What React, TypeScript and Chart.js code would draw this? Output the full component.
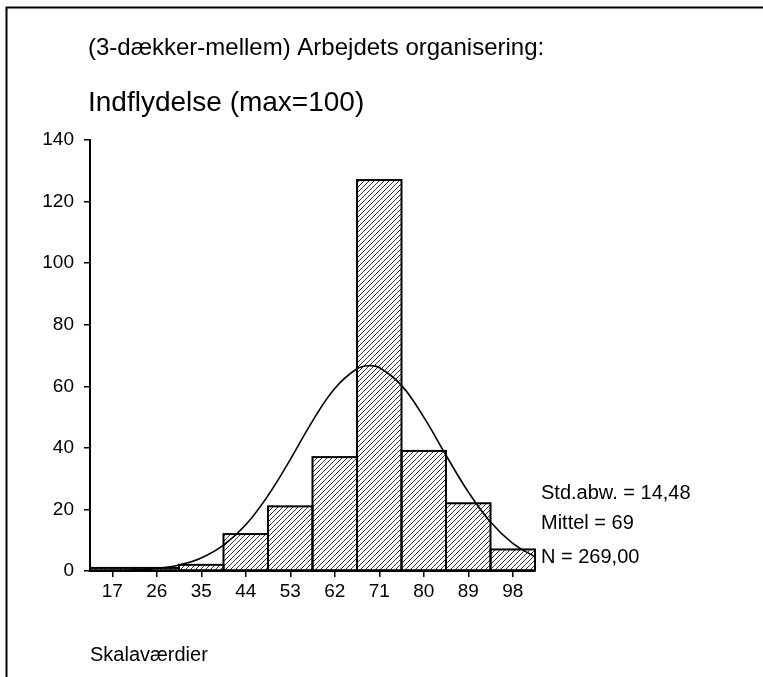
import React, { useEffect, useRef } from 'react';
import { Chart, registerables } from 'chart.js';

Chart.register(...registerables);

// ---- data ----
const binCenters = [17, 26, 35, 44, 53, 62, 71, 80, 89, 98];
const counts = [1, 1, 2, 12, 21, 37, 127, 39, 22, 7];
const xTickValues = [17, 26, 35, 44, 53, 62, 71, 80, 89, 98];
const curveX = [12.5, 17, 21.5, 26, 30.5, 35, 39.5, 44, 48.5, 53, 57.5, 62, 66.5, 69, 71, 75.5, 80, 84.5, 89, 93.5, 98, 102.5];
const curveY = [0.03, 0.11, 0.31, 0.81, 1.95, 4.24, 8.38, 15.0, 24.5, 36.2, 48.7, 59.3, 65.7, 66.7, 66.1, 60.3, 50.0, 37.6, 25.7, 15.9, 8.98, 4.59];
const titleLine1 = '(3-dækker-mellem) Arbejdets organisering:';
const titleLine2 = 'Indflydelse (max=100)';
const xAxisTitle = 'Skalaværdier';
const statsLines = ['Std.abw. = 14,48', 'Mittel = 69', 'N = 269,00'];
const yMin = 0;
const yMax = 140;
const yStep = 20;
const xMin = 12.5;
const xMax = 102.5;

const FONT = '"Liberation Sans", Arial, Helvetica, sans-serif';

function makeHatch(): CanvasPattern | string {
  const c = document.createElement('canvas');
  c.width = 5;
  c.height = 5;
  const g = c.getContext('2d');
  if (!g) return '#fff';
  g.fillStyle = '#fff';
  g.fillRect(0, 0, 5, 5);
  g.strokeStyle = '#000';
  g.lineWidth = 0.8;
  g.beginPath();
  g.moveTo(0, 5);
  g.lineTo(5, 0);
  g.moveTo(-1, 1);
  g.lineTo(1, -1);
  g.moveTo(4, 6);
  g.lineTo(6, 4);
  g.stroke();
  return g.createPattern(c, 'repeat') || '#fff';
}

const outlinePlugin = {
  id: 'barOutline',
  afterDatasetDraw(chart: any, args: any) {
    if (args.index !== 0) return;
    const ctx = chart.ctx;
    const meta = chart.getDatasetMeta(0);
    ctx.save();
    ctx.strokeStyle = '#000';
    ctx.lineWidth = 2;
    meta.data.forEach((bar: any) => {
      const p = bar.getProps(['x', 'y', 'base', 'width'], true);
      ctx.strokeRect(p.x - p.width / 2, p.y, p.width, p.base - p.y);
    });
    ctx.restore();
  },
};

const decorPlugin = {
  id: 'decor',
  afterDraw(chart: any) {
    const ctx = chart.ctx;
    ctx.save();
    // frame
    ctx.strokeStyle = '#000';
    ctx.lineWidth = 2;
    ctx.beginPath();
    ctx.moveTo(6.5, 677);
    ctx.lineTo(6.5, 7.5);
    ctx.lineTo(763, 7.5);
    ctx.stroke();
    ctx.fillStyle = '#000';
    ctx.textAlign = 'left';
    ctx.textBaseline = 'alphabetic';
    ctx.font = `24px ${FONT}`;
    ctx.fillText(titleLine1, 88, 55);
    ctx.font = `28px ${FONT}`;
    ctx.fillText(titleLine2, 88, 111);
    ctx.font = `20px ${FONT}`;
    ctx.fillText(xAxisTitle, 90, 661);
    ctx.font = `20px ${FONT}`;
    const base = [499, 529, 563];
    statsLines.forEach((s, i) => ctx.fillText(s, 541, base[i]));
    ctx.restore();
  },
};

export default function App() {
  const ref = useRef<HTMLCanvasElement | null>(null);

  useEffect(() => {
    if (!ref.current) return;
    const hatch = makeHatch();
    const chart = new Chart(ref.current, {
      type: 'bar',
      data: {
        datasets: [
          {
            type: 'bar',
            data: binCenters.map((x, i) => ({ x, y: counts[i] })),
            backgroundColor: hatch as any,
            borderWidth: 0,
            barPercentage: 1,
            categoryPercentage: 1,
            order: 2,
          } as any,
          {
            type: 'line',
            data: curveX.map((x, i) => ({ x, y: curveY[i] })),
            borderColor: '#000',
            borderWidth: 1.6,
            pointRadius: 0,
            fill: false,
            tension: 0.4,
            order: 1,
          } as any,
        ],
      },
      options: {
        animation: false,
        responsive: false,
        devicePixelRatio: 1,
        layout: { padding: { left: 0, right: 228, top: 140, bottom: 76 } },
        plugins: { legend: { display: false }, tooltip: { enabled: false } },
        scales: {
          x: {
            type: 'linear',
            min: xMin,
            max: xMax,
            offset: false,
            afterBuildTicks: (scale: any) => {
              scale.ticks = xTickValues.map((v) => ({ value: v }));
            },
            afterFit: (scale: any) => {
              scale.height = 30;
            },
            ticks: {
              autoSkip: false,
              maxRotation: 0,
              color: '#000',
              padding: 3,
              font: { family: FONT, size: 19 },
              callback: (v: any) => String(v),
            },
            grid: {
              display: true,
              drawOnChartArea: false,
              drawTicks: true,
              tickLength: 6,
              color: '#000',
              lineWidth: 1.5,
              offset: false,
            },
            border: { display: true, color: '#000', width: 2 },
          },
          y: {
            type: 'linear',
            min: yMin,
            max: yMax,
            afterFit: (scale: any) => {
              scale.width = 90;
            },
            ticks: {
              stepSize: yStep,
              color: '#000',
              padding: 10,
              font: { family: FONT, size: 19 },
            },
            grid: {
              display: true,
              drawOnChartArea: false,
              drawTicks: true,
              tickLength: 6,
              color: '#000',
              lineWidth: 1.5,
            },
            border: { display: true, color: '#000', width: 2 },
          },
        },
      } as any,
      plugins: [outlinePlugin, decorPlugin],
    });
    return () => chart.destroy();
  }, []);

  return (
    <div style={{ position: 'absolute', left: 0, top: 0, width: 763, height: 677, background: '#fff' }}>
      <canvas ref={ref} width={763} height={677} style={{ display: 'block', width: 763, height: 677 }} />
    </div>
  );
}
